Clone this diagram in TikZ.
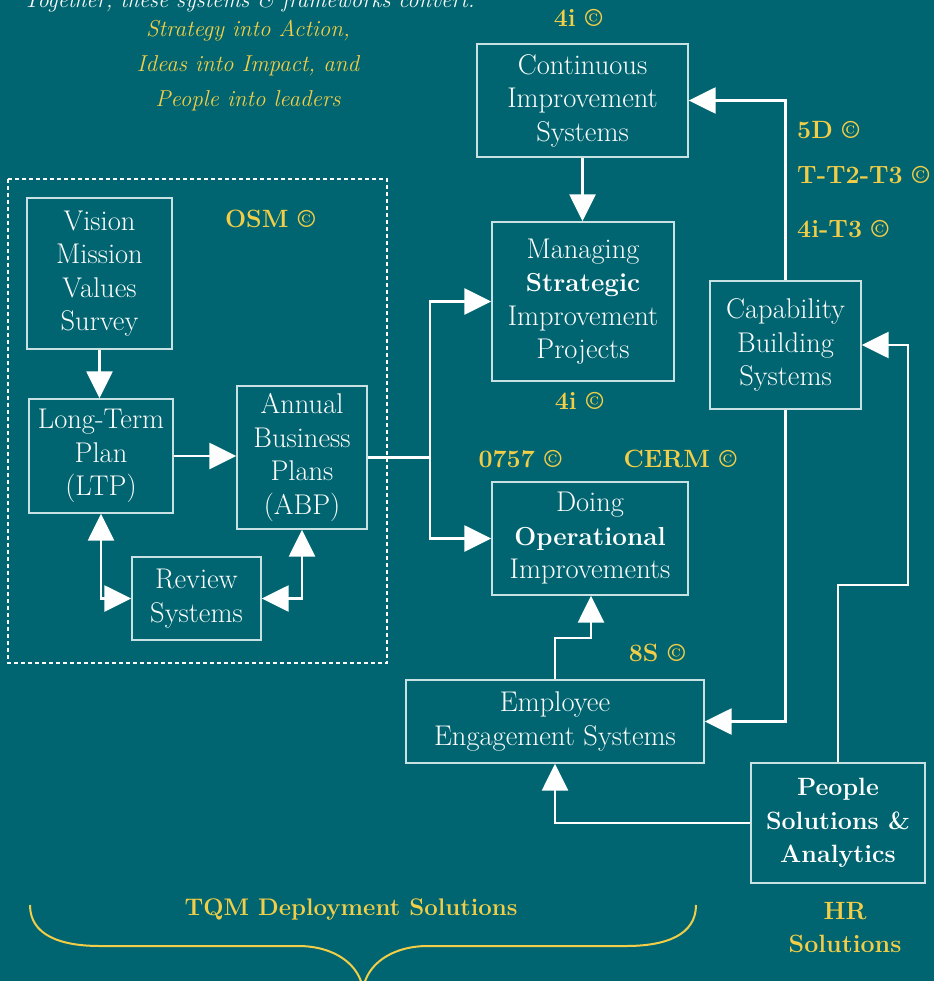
\documentclass[tikz,border=0pt]{standalone}
\usepackage{fontspec}
\usetikzlibrary{arrows.meta}
\definecolor{bg}{RGB}{0,101,112}
\definecolor{gold}{RGB}{242,206,72}
\definecolor{edge}{RGB}{200,225,226}
\newcommand\bxt[1]{{\fontsize{26}{33.5}\selectfont\bfseries #1}}
\begin{document}
\begin{tikzpicture}[x=1pt,y=-1pt,
  box/.style={draw=edge, line width=1.4pt, inner sep=0pt, align=center, text=white,
    font=\fontsize{28.5}{33.5}\selectfont},
  bbox/.style={box, font=\fontsize{25}{33.5}\selectfont\bfseries},
  lbl/.style={text=gold, inner sep=0pt, font=\fontsize{25}{33}\selectfont\bfseries},
  itl/.style={text=gold, inner sep=0pt, anchor=base, font=\fontsize{23}{34}\selectfont\itshape},
  conn/.style={draw=white, line width=2.6pt},
  brace/.style={draw=gold, line width=2pt},
  >={Triangle[width=26pt,length=27pt]}]
\clip (0,0) rectangle (934,981);
\fill[bg] (0,0) rectangle (934,981);

% heading texts
\node[itl, text=white, font=\fontsize{22.5}{34}\selectfont\itshape] (head) at (249,8) {Together, these systems \& frameworks convert:};
\node[itl] (t1) at (248,37) {Strategy into Action,};
\node[itl] (t2) at (248,72) {Ideas into Impact, and};
\node[itl] (t3) at (248,107) {People into leaders};

% OSM dashed frame
\draw[white, line width=1.2pt, dash pattern=on 4pt off 3pt] (8,179) rectangle (387,663);

% boxes
\node[box, minimum width=145pt, minimum height=151pt] (vmv) at (99.5,273.5) {Vision\\Mission\\Values\\Survey};
\node[box, minimum width=144pt, minimum height=114pt] (ltp) at (101,456) {Long-Term\\Plan\\(LTP)};
\node[box, minimum width=130pt, minimum height=143pt] (abp) at (302,457.5) {Annual\\Business\\Plans\\(ABP)};
\node[box, minimum width=129pt, minimum height=83pt] (rev) at (196.5,598.5) {Review\\Systems};
\node[box, minimum width=211pt, minimum height=113pt] (cis) at (582.5,100.5) {Continuous\\Improvement\\Systems};
\node[box, minimum width=182pt, minimum height=159pt] (msp) at (583,301.5) {Managing\\\bxt{Strategic}\\Improvement\\Projects};
\node[box, minimum width=151pt, minimum height=128pt] (cbs) at (785.5,345) {Capability\\Building\\Systems};
\node[box, minimum width=196pt, minimum height=113pt] (doi) at (590,538.5) {Doing\\\bxt{Operational}\\Improvements};
\node[box, minimum width=298pt, minimum height=83pt] (ees) at (555,721.5) {Employee\\Engagement Systems};
\node[bbox, minimum width=174pt, minimum height=120pt] (psa) at (838,823) {People\\Solutions \&\\Analytics};

% labels
\node[lbl] (l4a) at (578,18) {4i ©};
\node[lbl] (losm) at (270,219) {OSM ©};
\node[lbl] (l4b) at (579,401) {4i ©};
\node[lbl] (l0757) at (520,459) {0757 ©};
\node[lbl] (lcerm) at (680,459) {CERM ©};
\node[lbl, anchor=west] (l5d) at (797,130) {5D ©};
\node[lbl, anchor=west] (ltt) at (797,175) {T-T2-T3 ©};
\node[lbl, anchor=west] (l4t) at (797,229) {4i-T3 ©};
\node[lbl] (l8s) at (657,653) {8S ©};
\node[lbl, align=center] (hr) at (845,928) {HR\\Solutions};
\node[lbl, font=\fontsize{24}{33}\selectfont\bfseries] (tqm) at (351,910) {TQM Deployment Solutions};

% helper points
\coordinate (j) at (430,457.5);
\coordinate (p2) at (908,585);
\coordinate (q) at (591,638);

% connectors
\draw[conn,->] (vmv.south) -- (vmv.south |- ltp.north);
\draw[conn,->] (ltp.east) -- (ltp.east -| abp.west);
\draw[conn,<->] (ltp.south) |- (rev.west);
\draw[conn,<->] (abp.south) |- (rev.east);
\draw[conn] (abp.east) -- (j);
\draw[conn,->] (j) |- (msp.west);
\draw[conn,->] (j) |- (doi.west);
\draw[conn,->] (cis.south) -- (cis.south |- msp.north);
\draw[conn,->] (cbs.north) |- (cis.east);
\draw[conn,->] (cbs.south) |- (ees.east);
\draw[conn,->] (psa.north) |- (p2) -- (p2 |- cbs.east) -- (cbs.east);
\draw[conn,->] (psa.west) -| (ees.south);
\draw[conn,->] (ees.north) |- (q) -- (q |- doi.south);

% brace
\draw[brace] (30,905) .. controls (30,935) and (60,946) .. (100,946) -- (298,946)
  .. controls (335,946) and (360,965) .. (363,990);
\draw[brace] (363,990) .. controls (366,965) and (391,946) .. (428,946) -- (626,946)
  .. controls (666,946) and (696,935) .. (696,905);
\end{tikzpicture}
\end{document}
